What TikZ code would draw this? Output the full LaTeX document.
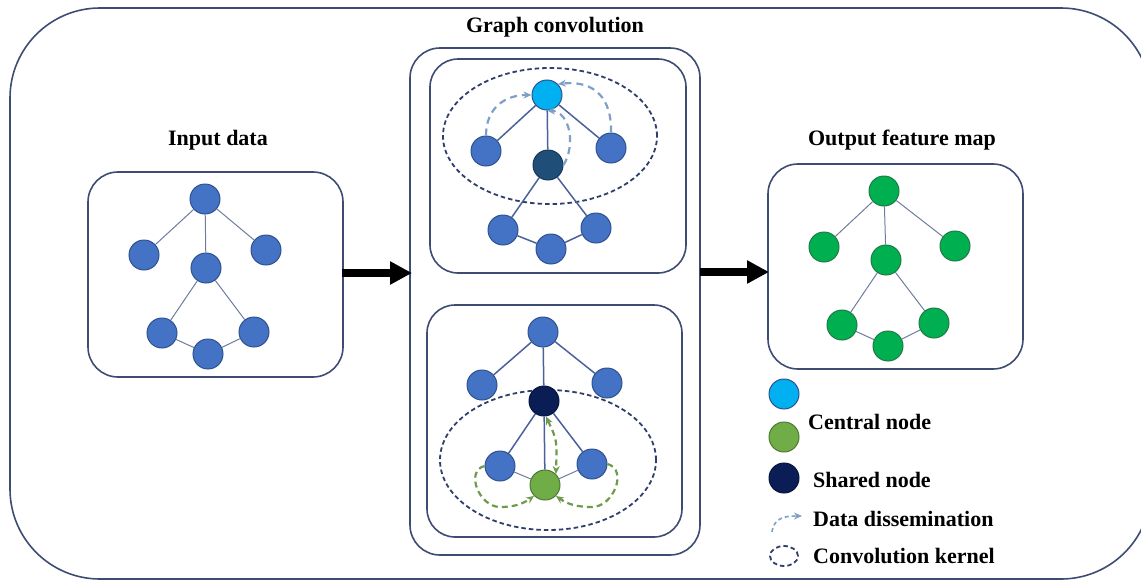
\documentclass[tikz,border=0pt]{standalone}
\usepackage{fontspec}
\setmainfont{Liberation Serif}
\usetikzlibrary{arrows.meta}
\definecolor{frame}{HTML}{3E4C74}
\definecolor{nodeblue}{HTML}{4472C4}
\definecolor{nodeline}{HTML}{2F528F}
\definecolor{lightc}{HTML}{00B0F0}
\definecolor{shareA}{HTML}{1F4E79}
\definecolor{shareB}{HTML}{0A1E55}
\definecolor{centralg}{HTML}{70AD47}
\definecolor{outg}{HTML}{00B050}
\definecolor{outgline}{HTML}{1F7A45}
\definecolor{edgegrey}{HTML}{6E7C9E}
\definecolor{edgeblue}{HTML}{4A619A}
\definecolor{kernel}{HTML}{2F3E6B}
\definecolor{diss}{HTML}{7F9FC6}
\definecolor{dissgreen}{HTML}{6E9A4C}
\tikzset{
  gnode/.style={circle, minimum size=30pt, inner sep=0pt, draw=nodeline, line width=1pt, fill=nodeblue},
  onode/.style={gnode, draw=outgline, fill=outg},
  panel/.style={draw=frame, line width=1.6pt, rounded corners=30pt},
  lbl/.style={font=\fontsize{22}{26}\selectfont\bfseries, inner sep=0pt},
  thinedge/.style={draw=edgegrey, line width=1pt},
  convedge/.style={draw=edgeblue, line width=1.5pt},
  kernelring/.style={draw=kernel, line width=1.8pt, dash pattern=on 4.5pt off 3pt},
  dissarrow/.style={draw=diss, line width=2.2pt, dash pattern=on 7pt off 5pt, -{Stealth[length=8pt,width=7pt]}},
  dissgreenarrow/.style={draw=dissgreen, line width=2.2pt, dash pattern=on 6pt off 4pt, -{Stealth[length=8pt,width=7pt]}},
  bigarrow/.style={line width=8pt, -{Triangle[length=22pt,width=22pt]}}
}
\begin{document}
\begin{tikzpicture}[x=1pt,y=-1pt]
\useasboundingbox (0,0) rectangle (1141,581);
\clip (0,0) rectangle (1141,581);

% outer frame (its right side runs past the page edge)
\draw[draw=frame, line width=1.6pt, rounded corners=90pt] (10,8) rectangle (1151,579);

% titles
\node[lbl] (tin) at (218,140) {Input data};
\node[lbl] (tgc) at (555,27) {Graph convolution};
\node[lbl] (tout) at (902,140) {Output feature map};

% panels
\node[panel, minimum width=255pt, minimum height=205pt] (pin) at (215.5,274.5) {};
\node[panel, minimum width=290pt, minimum height=507pt] (pgc) at (555,301.5) {};
\node[panel, rounded corners=28pt, minimum width=256pt, minimum height=214pt] (pgt) at (558,166) {};
\node[panel, rounded corners=28pt, minimum width=255pt, minimum height=232pt] (pgb) at (554.5,421) {};
\node[panel, minimum width=255pt, minimum height=205pt] (pout) at (895.5,266.5) {};

% big arrows between stages
\coordinate (a1s) at (342,273);
\coordinate (a1e) at (412,273);
\coordinate (a2s) at (700,272);
\coordinate (a2e) at (769,272);
\draw[bigarrow] (a1s) -- (a1e);
\draw[bigarrow] (a2s) -- (a2e);

% input graph
\node[gnode] (i1) at (205,199) {};
\node[gnode] (i2) at (144,255) {};
\node[gnode] (i3) at (266,250) {};
\node[gnode] (i4) at (206,268) {};
\node[gnode] (i5) at (162,333) {};
\node[gnode] (i6) at (208,354) {};
\node[gnode] (i7) at (254,332) {};
\path[thinedge] (i1) -- (i2) (i1) -- (i3) (i1) -- (i4) (i4) -- (i5) (i4) -- (i7) (i5) -- (i6) (i6) -- (i7);

% output graph
\node[onode] (o1) at (884,191) {};
\node[onode] (o2) at (824,247) {};
\node[onode] (o3) at (955,246) {};
\node[onode] (o4) at (886,260) {};
\node[onode] (o5) at (842,325) {};
\node[onode] (o6) at (888,346) {};
\node[onode] (o7) at (934,323) {};
\path[thinedge] (o1) -- (o2) (o1) -- (o3) (o1) -- (o4) (o4) -- (o5) (o4) -- (o7) (o5) -- (o6) (o6) -- (o7);

% graph convolution, upper panel
\draw[kernelring] (550,136) ellipse [x radius=107pt, y radius=68pt];
\node[gnode, fill=lightc] (tc) at (547,95) {};
\node[gnode] (t1) at (486,151) {};
\node[gnode] (t3) at (611,148) {};
\node[gnode, fill=shareA, draw=shareA!70!black] (ts) at (548,165) {};
\node[gnode] (t5) at (503,230) {};
\node[gnode] (t6) at (551,249) {};
\node[gnode] (t7) at (596,228) {};
\path[convedge] (tc) -- (t1) (tc) -- (t3) (tc) -- (ts) (ts) -- (t5) (ts) -- (t7) (t5) -- (t6) (t6) -- (t7);
\draw[dissarrow] (t1.north) .. controls (486,108) and (505,95) .. (tc.west);
\draw[dissarrow] (t3.north) .. controls (612,100) and (596,80) .. (tc.north east);
\draw[dissarrow] (ts.east) .. controls (576,145) and (570,112) .. (tc.south);

% graph convolution, lower panel
\draw[kernelring] (548,460) ellipse [x radius=108pt, y radius=70pt];
\node[gnode] (b1) at (543,332) {};
\node[gnode] (b2) at (482,385) {};
\node[gnode] (b3) at (607,383) {};
\node[gnode, fill=shareB, draw=shareB!70!black] (bs) at (544,401) {};
\node[gnode] (b4) at (500,466) {};
\node[gnode, fill=centralg, draw=centralg!70!black] (bg) at (545,485) {};
\node[gnode] (b6) at (592,464) {};
\path[convedge] (b1) -- (b2) (b1) -- (b3) (b1) -- (bs) (bs) -- (b4) (bs) -- (bg) (bs) -- (b6);
\path[thinedge] (b4) -- (bg) (bg) -- (b6);
\draw[dissgreenarrow, {Stealth[length=8pt,width=7pt]}-{Stealth[length=8pt,width=7pt]}] ([xshift=2pt]bs.south) .. controls (557,440) .. (bg.north east);
\draw[dissgreenarrow] (b4.west) to[out=195,in=180,looseness=1.2] (500,507) to[out=0,in=215] (bg.south west);
\draw[dissgreenarrow] (b6.east) to[out=-15,in=0,looseness=1.2] (592,507) to[out=180,in=-35] (bg.south east);

% legend
\node[gnode, fill=lightc] (k1) at (784,394) {};
\node[gnode, fill=centralg, draw=centralg!70!black] (k2) at (784,437) {};
\node[gnode, fill=shareB, draw=shareB!70!black] (k3) at (784,478) {};
\node[lbl, anchor=west] (k2t) at (808,422) {Central node};
\node[lbl, anchor=west] (k3t) at (813,480) {Shared node};
\coordinate (k4s) at (772,532);
\coordinate (k4e) at (802,516);
\draw[dissarrow, line width=1.6pt, dash pattern=on 4pt off 3pt] (k4s) .. controls (774,517) and (786,516) .. (k4e);
\node[lbl, anchor=west] (k4t) at (813,519) {Data dissemination};
\draw[kernelring] (784,556) ellipse [x radius=14pt, y radius=10pt];
\node[lbl, anchor=west] (k5t) at (813,556) {Convolution kernel};
\end{tikzpicture}
\end{document}
